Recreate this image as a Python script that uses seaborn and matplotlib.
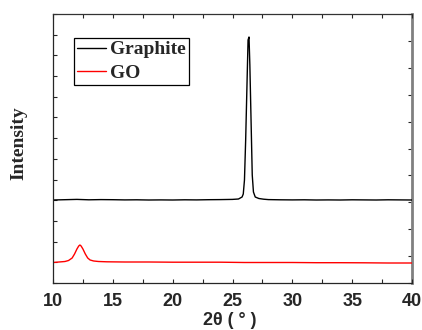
import matplotlib
matplotlib.use("Agg")
import matplotlib.pyplot as plt
import seaborn as sns
import numpy as np
from matplotlib.ticker import MultipleLocator

sns.set_style("ticks")

# Graphite XRD pattern (arbitrary intensity units)
x_graphite = [10, 11, 12, 13, 14, 15, 16, 17, 18, 19, 20, 21, 22, 23, 24, 25,
              25.5, 25.8, 25.9, 26.0, 26.1, 26.2, 26.3, 26.38, 26.45, 26.55,
              26.65, 26.75, 26.9, 27.2, 27.6, 28, 29, 30, 31, 32, 33, 34, 35,
              36, 37, 38, 39, 40]
y_graphite = [83, 83.3, 83.6, 83.2, 83.4, 83.3, 83.1, 83.2, 83.0, 83.1, 83.0,
              83.2, 83.1, 83.3, 83.4, 83.6, 84, 86, 89, 103, 143, 193, 243,
              246, 218, 163, 108, 91, 86, 84.5, 83.8, 83.4, 83.2, 83.1, 83.2,
              83.0, 83.1, 83.0, 83.2, 83.1, 83.0, 83.2, 83.1, 83.0]

# Graphene oxide XRD pattern
x_go = [10, 10.5, 11, 11.3, 11.6, 11.8, 12.0, 12.15, 12.25, 12.35, 12.5, 12.7,
        12.9, 13.1, 13.4, 13.8, 14.5, 16, 18, 20, 22, 24, 26, 28, 30, 32, 34,
        36, 38, 40]
y_go = [20.5, 21, 21.5, 22.5, 25, 29, 34, 37, 38, 37, 34, 29, 25, 23, 22, 21.5,
        21.2, 21, 21, 20.8, 20.8, 20.8, 20.5, 20.5, 20.5, 20.3, 20.3, 20.2, 20.0,
        20.0]

series_names = ["Graphite", "GO"]
series_colors = ["black", "red"]
x_ticks = [10, 15, 20, 25, 30, 35, 40]

fig = plt.figure(figsize=(4.22, 3.30), dpi=100)
ax = fig.add_axes([53/422, 47/330, 359/422, 269/330])

sns.lineplot(x=x_graphite, y=y_graphite, ax=ax, color=series_colors[0],
             lw=1.0, label=series_names[0], estimator=None)
sns.lineplot(x=x_go, y=y_go, ax=ax, color=series_colors[1],
             lw=1.0, label=series_names[1], estimator=None)

ax.set_xlim(10, 40)
ax.set_ylim(0, 269)
ax.set_xticks(x_ticks)
ax.set_xticklabels([str(t) for t in x_ticks], fontfamily="Liberation Sans",
                   fontweight="bold", fontsize=13)
ax.xaxis.set_minor_locator(MultipleLocator(2.5))
ax.set_yticks(np.linspace(0, 269, 14))
ax.set_yticklabels([])
ax.tick_params(axis="x", which="both", direction="in", top=True, bottom=True,
               length=3, width=0.8, pad=7.5)
ax.tick_params(axis="y", which="both", direction="in", left=True, right=False,
               length=3, width=0.8)

sec = ax.secondary_yaxis("right")
sec.set_yticks(np.linspace(0, 269, 11))
sec.set_yticklabels([])
sec.tick_params(direction="in", length=3, width=0.8)
sec.spines["right"].set_color("#808080")
sec.spines["right"].set_linewidth(2.0)
ax.spines["right"].set_visible(False)
ax.spines["top"].set_color("#333333")
for s in ["left", "bottom", "top"]:
    ax.spines[s].set_linewidth(0.9)

ax.set_xlabel("2θ ( ° )", fontfamily="Liberation Sans", fontweight="bold",
              fontsize=13, labelpad=0)
ax.xaxis.set_label_coords(0.493, -0.106, transform=ax.transAxes)
ax.xaxis.label.set_va("top")
ax.set_ylabel("Intensity", fontfamily="Liberation Serif", fontweight="bold",
              fontsize=14)
ax.yaxis.set_label_coords(-0.07, 0.519, transform=ax.transAxes)

leg = ax.legend(loc="upper left", bbox_to_anchor=(0.0585, 0.911),
                borderaxespad=0, borderpad=0.15, handlelength=1.5,
                handletextpad=0.2, labelspacing=0.3, frameon=True, fancybox=False,
                prop={"family": "Liberation Serif", "weight": "bold", "size": 14})
leg.get_frame().set_edgecolor("black")
leg.get_frame().set_linewidth(0.9)
leg.get_frame().set_alpha(1)

fig.savefig("out.png", dpi=100)
